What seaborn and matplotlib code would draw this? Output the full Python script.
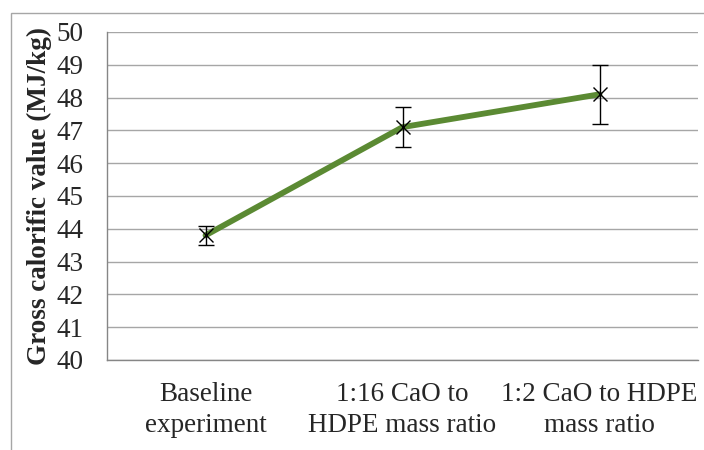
import matplotlib
matplotlib.use("Agg")
import matplotlib.pyplot as plt
import seaborn as sns
import pandas as pd
from matplotlib.patches import Rectangle

categories = ["Baseline\nexperiment", "1:16 CaO to\nHDPE mass ratio", "1:2 CaO to HDPE\nmass ratio"]
values = [43.8, 47.1, 48.1]
errors = [0.3, 0.6, 0.9]
yticks = list(range(40, 51))

sns.set_theme(style="white")
plt.rcParams['font.family'] = ['Liberation Serif', 'DejaVu Serif']

df = pd.DataFrame({"cat": categories, "val": values})

fig = plt.figure(figsize=(7.04, 4.5), dpi=100)
ax = fig.add_axes([107/704, 1-360/450, (698-107)/704, (360-32)/450])

sns.pointplot(data=df, x="cat", y="val", color="#5b8a33", markers="", linestyles="-",
              errorbar=None, ax=ax, linewidth=4.2)
ax.errorbar(range(len(values)), values, yerr=errors, fmt="x", color="black",
            ecolor="black", elinewidth=1.0, capsize=6, capthick=1.0,
            markersize=10, markeredgewidth=1.0, zorder=5)

ax.set_ylim(40, 50)
ax.set_xlim(-0.5, 2.5)
ax.set_yticks(yticks)
ax.set_yticklabels([str(t) for t in yticks], fontsize=19.5)
ax.set_xticks(range(3))
ax.set_xticklabels(categories, fontsize=19.5, linespacing=1.32)
ax.set_xticks([-0.5, 0.5, 1.5, 2.5], minor=True)
ax.tick_params(axis="x", which="major", length=0, pad=16)
ax.tick_params(axis="x", which="minor", length=6, color="#868686", width=1, direction="out")
ax.tick_params(axis="y", which="major", length=7, color="#868686", width=1, direction="out", pad=10)
ax.yaxis.grid(True, color="#a6a6a6", linewidth=1.0)
ax.set_axisbelow(True)
ax.set_xlabel("")
ax.set_ylabel("Gross calorific value (MJ/kg)", fontsize=19.5, fontweight="bold", labelpad=3)
for s in ["top", "right"]:
    ax.spines[s].set_visible(False)
for s in ["left", "bottom"]:
    ax.spines[s].set_color("#868686")
    ax.spines[s].set_linewidth(1.0)
    ax.spines[s].set_visible(True)

fig.patches.append(Rectangle((11/704, -0.1), 1.2, 1 - 13/450 + 0.1, transform=fig.transFigure,
                             fill=False, edgecolor="#a6a6a6", linewidth=1.0))

fig.savefig("out.png", dpi=100)
